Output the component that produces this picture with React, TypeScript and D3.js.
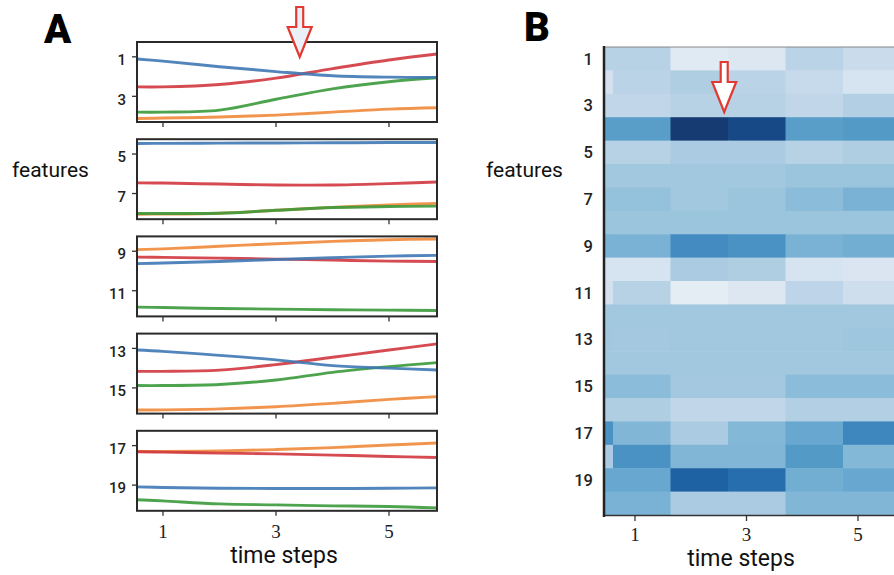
import React from "react";
import * as d3 from "d3";

// time positions for the smoothed lines (left edge .. right edge of each panel)
const timeSteps = [0.54, 1, 2, 3, 4, 5, 5.85];

// panel A: one row per subplot (features 1-4, 5-8, 9-12, 13-16, 17-20)
const blueLines = [
  [1.11, 1.22, 1.5, 1.75, 1.96, 2.03, 2.04],
  [4.47, 4.46, 4.45, 4.44, 4.43, 4.42, 4.42],
  [9.63, 9.6, 9.52, 9.42, 9.33, 9.25, 9.21],
  [13.08, 13.15, 13.35, 13.58, 13.87, 14.0, 14.09],
  [19.09, 19.12, 19.16, 19.17, 19.17, 19.16, 19.14],
];
const redLines = [
  [2.52, 2.52, 2.4, 2.08, 1.6, 1.16, 0.86],
  [6.46, 6.47, 6.52, 6.57, 6.57, 6.5, 6.42],
  [9.3, 9.31, 9.35, 9.4, 9.45, 9.5, 9.52],
  [14.16, 14.16, 14.1, 13.82, 13.45, 13.08, 12.77],
  [17.31, 17.33, 17.38, 17.42, 17.48, 17.55, 17.6],
];
const greenLines = [
  [3.8, 3.8, 3.7, 3.15, 2.62, 2.26, 2.06],
  [8.01, 8.01, 8.0, 7.85, 7.71, 7.66, 7.64],
  [11.83, 11.85, 11.9, 11.93, 11.96, 11.98, 12.0],
  [14.88, 14.88, 14.83, 14.6, 14.21, 13.92, 13.72],
  [19.74, 19.8, 19.95, 20.0, 20.05, 20.08, 20.15],
];
const orangeLines = [
  [4.12, 4.1, 4.05, 3.95, 3.8, 3.65, 3.58],
  [8.05, 8.04, 8.0, 7.85, 7.7, 7.58, 7.5],
  [8.92, 8.88, 8.75, 8.62, 8.5, 8.42, 8.38],
  [16.12, 16.11, 16.06, 15.95, 15.78, 15.58, 15.44],
  [17.3, 17.3, 17.27, 17.2, 17.1, 16.97, 16.87],
];

// panel B: 20 features x 6 columns (first column only partly visible)
const heatValues = [
  [0.3, 0.3, 0.05, 0.08, 0.28, 0.2],
  [0.15, 0.28, 0.33, 0.28, 0.22, 0.12],
  [0.25, 0.25, 0.3, 0.3, 0.25, 0.32],
  [0.6, 0.6, 1.0, 0.95, 0.6, 0.62],
  [0.3, 0.3, 0.35, 0.35, 0.3, 0.33],
  [0.38, 0.38, 0.38, 0.38, 0.4, 0.4],
  [0.42, 0.42, 0.38, 0.4, 0.45, 0.5],
  [0.4, 0.4, 0.4, 0.4, 0.4, 0.4],
  [0.5, 0.5, 0.68, 0.65, 0.5, 0.52],
  [0.12, 0.12, 0.35, 0.33, 0.12, 0.1],
  [0.15, 0.3, 0.02, 0.08, 0.27, 0.18],
  [0.38, 0.38, 0.38, 0.38, 0.38, 0.38],
  [0.38, 0.37, 0.38, 0.38, 0.38, 0.39],
  [0.38, 0.38, 0.38, 0.38, 0.38, 0.38],
  [0.45, 0.45, 0.37, 0.37, 0.45, 0.45],
  [0.33, 0.33, 0.25, 0.25, 0.32, 0.32],
  [0.65, 0.48, 0.35, 0.47, 0.55, 0.7],
  [0.35, 0.65, 0.48, 0.48, 0.62, 0.47],
  [0.55, 0.55, 0.85, 0.8, 0.52, 0.55],
  [0.5, 0.5, 0.35, 0.35, 0.48, 0.48],
];

const features = d3.range(1, 21);
const xTicks = [1, 3, 5];
const arrowTimeA = 3.42;
const arrowTimeB = 2.6;

const SANS = "Roboto, 'Noto Sans', sans-serif";
const SERIF = "'Liberation Serif', 'DejaVu Serif', serif";

// hollow down arrow, tip at (x, y)
const arrowPath = (x: number, y: number) => {
  const sw = 3.5, hw = 12, head = 30, len = 50;
  return `M${x - sw},${y - len} L${x + sw},${y - len} L${x + sw},${y - head} L${x + hw},${y - head} L${x},${y} L${x - hw},${y - head} L${x - sw},${y - head} Z`;
};

export default function App() {
  // ----- panel A -----
  const xA = d3.scaleLinear().domain([0.54, 5.85]).range([137, 437]);
  const subTop = (k: number) => 42 + k * 97.2;
  const subH = 80;

  const subplots = d3.range(5).map((k) => {
    const y = d3
      .scaleLinear()
      .domain([4 * k + 0.25, 4 * k + 4.3])
      .range([subTop(k), subTop(k) + subH]);
    const line = d3
      .line<number>()
      .x((_, i) => xA(timeSteps[i]))
      .y((d) => y(d))
      .curve(d3.curveCatmullRom.alpha(0.5));
    const series = [
      { color: "#f08a3a", values: orangeLines[k] },
      { color: "#3b9a3b", values: greenLines[k] },
      { color: "#d0393f", values: redLines[k] },
      { color: "#3f78b4", values: blueLines[k] },
    ];
    return { k, y, line, series, ticks: [4 * k + 1, 4 * k + 3] };
  });

  // ----- panel B -----
  const xB = d3.scaleLinear().domain([1, 5]).range([635, 858]);
  const xCell = d3.scaleLinear().domain([0, 6]).range([555.5, 900.5]);
  const yB = d3.scaleBand<number>().domain(features).range([47, 515]);
  // slightly greyed Blues, like the printed figure
  const color = (v: number) =>
    d3.interpolateRgb(d3.interpolateBlues(0.04 + 0.96 * Math.pow(v, 1.15)), "#8f9fb0")(0.1);
  const heatLeft = 604;

  return (
    <div style={{ position: "absolute", left: 0, top: 0 }}>
      <svg width={894} height={575} style={{ display: "block", background: "#fff" }}>
        <defs>
          <filter id="soft" x="-5%" y="-20%" width="110%" height="140%">
            <feGaussianBlur stdDeviation="0.5" />
          </filter>
          <clipPath id="heatClip">
            <rect x={heatLeft} y={47} width={300} height={468} />
          </clipPath>
          {subplots.map((s) => (
            <clipPath id={`sub${s.k}`} key={s.k}>
              <rect x={137} y={subTop(s.k)} width={300} height={subH} />
            </clipPath>
          ))}
        </defs>

        {/* panel letters */}
        <text x={44} y={43} fontFamily={SANS} fontWeight={900} fontSize={40}>A</text>
        <text x={524} y={41} fontFamily={SANS} fontWeight={900} fontSize={40}>B</text>

        {/* ===== Panel A ===== */}
        <text x={12} y={177} fontFamily={SANS} fontSize={21} fill="#111">features</text>
        {subplots.map((s) => (
          <g key={s.k}>
            <g clipPath={`url(#sub${s.k})`} filter="url(#soft)">
              {s.series.map((ser, i) => (
                <path
                  key={i}
                  d={s.line(ser.values) || ""}
                  fill="none"
                  stroke={ser.color}
                  strokeWidth={2.9}
                  strokeOpacity={0.9}
                />
              ))}
            </g>
            <rect
              x={137}
              y={subTop(s.k)}
              width={300}
              height={subH}
              fill="none"
              stroke="#2a2a2a"
              strokeWidth={2}
            />
            {s.ticks.map((t) => (
              <g key={t}>
                <line x1={132} x2={137} y1={s.y(t)} y2={s.y(t)} stroke="#333" strokeWidth={1.3} />
                <text
                  x={126}
                  y={s.y(t)}
                  dy="0.55em"
                  textAnchor="end"
                  fontFamily={SANS}
                  fontWeight={500}
                  fontSize={15}
                  fill="#222"
                >
                  {t}
                </text>
              </g>
            ))}
            {xTicks.map((t) => (
              <line
                key={t}
                x1={xA(t)}
                x2={xA(t)}
                y1={subTop(s.k) + subH}
                y2={subTop(s.k) + subH + 5}
                stroke="#333"
                strokeWidth={1.3}
              />
            ))}
          </g>
        ))}
        {xTicks.map((t) => (
          <text key={t} x={xA(t)} y={538} textAnchor="middle" fontFamily={SERIF} fontSize={19} fill="#222">
            {t}
          </text>
        ))}
        <text x={284} y={563} textAnchor="middle" fontFamily={SANS} fontSize={23} fill="#111">
          time steps
        </text>
        <path
          d={arrowPath(xA(arrowTimeA), 57)}
          fill="#eaf0f8"
          stroke="#e03a32"
          strokeWidth={2.2}
          strokeLinejoin="miter"
        />

        {/* ===== Panel B ===== */}
        <g clipPath="url(#heatClip)">
          {heatValues.map((row, r) =>
            row.map((v, c) => (
              <rect
                key={`${r}-${c}`}
                x={xCell(c)}
                y={yB(features[r])!}
                width={xCell(c + 1) - xCell(c) + 0.5}
                height={yB.bandwidth() + 0.5}
                fill={color(v)}
              />
            ))
          )}
        </g>
        <line x1={heatLeft} x2={894} y1={47} y2={47} stroke="#888" strokeWidth={1} />
        <line x1={heatLeft} x2={894} y1={515.5} y2={515.5} stroke="#333" strokeWidth={1.5} />
        <line x1={heatLeft} x2={heatLeft} y1={46} y2={517} stroke="#222" strokeWidth={2.5} />
        {features
          .filter((f) => f % 2 === 1)
          .map((f) => (
            <text
              key={f}
              x={593}
              y={yB(f)! + yB.bandwidth() / 2}
              dy="0.36em"
              textAnchor="end"
              fontFamily={SANS}
              fontWeight={500}
              fontSize={16.5}
              fill="#222"
            >
              {f}
            </text>
          ))}
        {xTicks.map((t) => (
          <g key={t}>
            <line x1={xB(t)} x2={xB(t)} y1={516} y2={521} stroke="#333" strokeWidth={1.3} />
            <text x={xB(t)} y={541} textAnchor="middle" fontFamily={SERIF} fontSize={19} fill="#222">
              {t}
            </text>
          </g>
        ))}
        <text x={486} y={177} fontFamily={SANS} fontSize={21} fill="#111">features</text>
        <text x={741} y={566} textAnchor="middle" fontFamily={SANS} fontSize={23} fill="#111">
          time steps
        </text>
        <path
          d={arrowPath(xB(arrowTimeB), 112)}
          fill="#ffffff"
          stroke="#e03a32"
          strokeWidth={2.2}
        />
      </svg>
    </div>
  );
}
